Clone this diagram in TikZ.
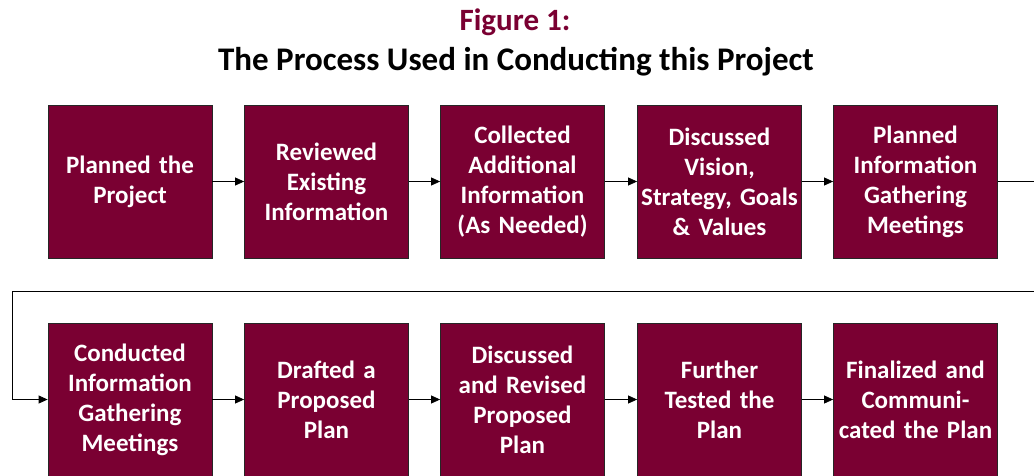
\documentclass[tikz,border=0pt]{standalone}
\usepackage{fontspec}
\setmainfont{Carlito}
\usetikzlibrary{arrows.meta}
\definecolor{maroon}{RGB}{122,0,50}
\tikzset{
  stepbox/.style={rectangle, draw=black!85, line width=0.8pt, fill=maroon,
    minimum width=164pt, minimum height=153pt, text width=162pt, align=center,
    text=white, font=\bfseries\fontsize{25}{30}\selectfont, inner sep=0pt},
  flow/.style={draw=black, line width=0.8pt, -{Triangle[length=9pt,width=8pt]}},
}
\begin{document}
\begin{tikzpicture}[x=1pt,y=-1pt]
\useasboundingbox (0,0) rectangle (1034,475);
\clip (0,0) rectangle (1034,475);
\node[font=\bfseries\fontsize{31}{36}\selectfont, text=maroon] (t1) at (515,22) {Figure 1:};
\node[font=\bfseries\fontsize{33}{38}\selectfont, text=black] (t2) at (516,62) {The Process Used in Conducting this Project};
% row 1
\node[stepbox] (b1) at (130,181.5) {Planned the\\Project};
\node[stepbox] (b2) at (326.5,181.5) {Reviewed\\Existing\\Information};
\node[stepbox] (b3) at (522.5,181.5) {Collected\\Additional\\Information\\(As Needed)};
\node[stepbox] (b4) at (719.5,181.5) {Discussed\\Vision,\\Strategy, Goals\\\& Values};
\node[stepbox] (b5) at (915.5,181.5) {Planned\\Information\\Gathering\\Meetings};
% row 2
\node[stepbox] (c1) at (130,399.5) {Conducted\\Information\\Gathering\\Meetings};
\node[stepbox] (c2) at (326.5,399.5) {Drafted a\\Proposed\\Plan};
\node[stepbox] (c3) at (522.5,399.5) {Discussed\\and Revised\\Proposed\\Plan};
\node[stepbox] (c4) at (719.5,399.5) {Further\\Tested the\\Plan};
\node[stepbox] (c5) at (915.5,399.5) {Finalized and\\Communi-\\cated the Plan};
% connectors
\draw[flow] (b1) -- (b2);
\draw[flow] (b2) -- (b3);
\draw[flow] (b3) -- (b4);
\draw[flow] (b4) -- (b5);
\coordinate (r1) at (1060,181.5);
\coordinate (r2) at (1060,291);
\coordinate (l1) at (12,291);
\coordinate (l2) at (12,399.5);
\draw[flow] (b5.east) -- (r1) -- (r2) -- (l1) -- (l2) -- (c1.west);
\draw[flow] (c1) -- (c2);
\draw[flow] (c2) -- (c3);
\draw[flow] (c3) -- (c4);
\draw[flow] (c4) -- (c5);
\end{tikzpicture}
\end{document}
